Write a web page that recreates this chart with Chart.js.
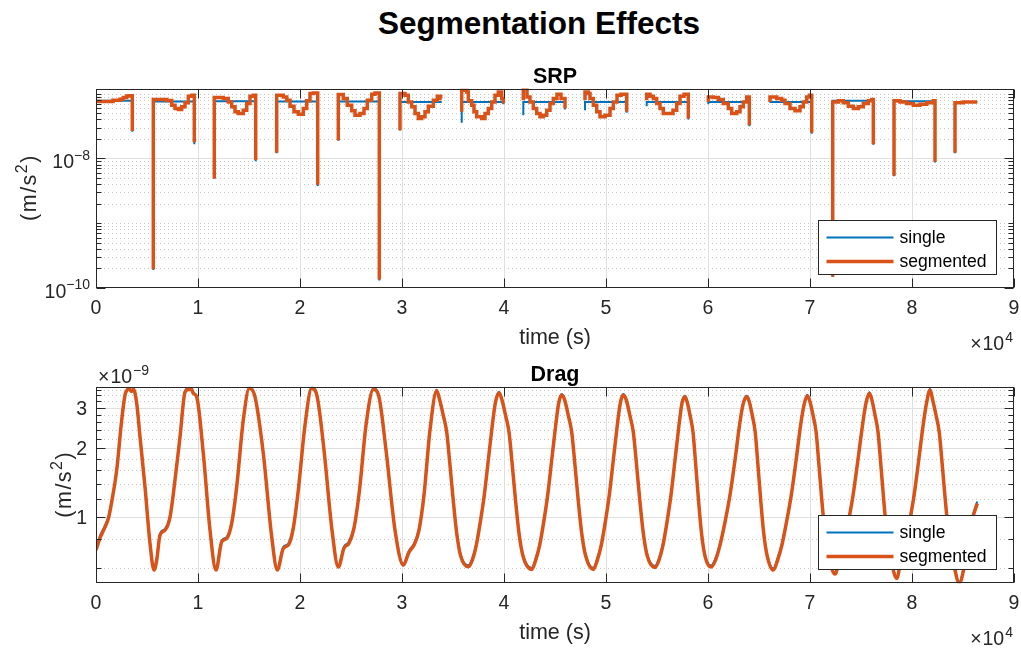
<!DOCTYPE html>
<html>
<head>
<meta charset="utf-8">
<title>Segmentation Effects</title>
<script src="https://cdn.jsdelivr.net/npm/chart.js@4.4.1/dist/chart.umd.min.js"></script>
<style>
  html, body { margin: 0; padding: 0; background: #ffffff; }
  #fig { position: relative; width: 1021px; height: 651px; overflow: hidden; background: #ffffff; }
  #suptitle {
    position: absolute; left: 0; top: 4px; width: 1078px; text-align: center;
    font: bold 31.5px "Liberation Sans", Arial, Helvetica, sans-serif; color: #000000; line-height: 38px;
  }
  canvas { position: absolute; left: 0; }
</style>
</head>
<body>
<div id="fig">
  <div id="suptitle">Segmentation Effects</div>
  <canvas id="srpCanvas" width="1021" height="365" style="top:0px"></canvas>
  <canvas id="dragCanvas" width="1021" height="311" style="top:340px"></canvas>
</div>
<script>
// ---------------- SRP acceleration (m/s^2) per sunlit arc; null = eclipse gap ----------------
const srpTime = [
  0, 1667, 2353, 2677, 3010, 3265, 3559, 3559, 4600,
  5618, 6931, 7422, 7745, 8069, 8402, 8726, 9049, 9382, 9637, 9637, 10600,
  11598, 12481, 12971, 13304, 13628, 13951, 14441, 14775, 15098, 15422, 15657, 15657, 16700,
  17716, 18363, 18696, 19020, 19412, 19834, 20324, 20657, 20981, 21304, 21735, 21735, 22700,
  23755, 24245, 24637, 25069, 25392, 25883, 26275, 26598, 27030, 27353, 27775, 27775, 28800,
  29804, 30294, 30618, 30951, 31275, 31598, 31931, 32255, 32579, 33069, 33461, 33794, 33893, 34900,
  35853, 36343, 36500, 36833, 37059, 37324, 37814, 38138, 38461, 38795, 39118, 39442, 39775, 39932, 39932, 40900,
  41893, 42255, 42549, 42873, 43206, 43530, 43853, 44187, 44510, 44834, 45196, 45589, 45981, 45981, 47000,
  47942, 48265, 48432, 48755, 49089, 49412, 49902, 50393, 50716, 51079, 51471, 52030, 52030, 53000,
  53991, 54314, 54638, 54971, 55295, 55618, 56079, 56569, 56932, 57255, 57648, 58069, 58069, 59000,
  60030, 60520, 61011, 61500, 61991, 62324, 62814, 63138, 63461, 63795, 64050, 64050, 65000,
  66079, 66736, 67226, 67550, 68040, 68530, 69020, 69344, 69677, 69932, 70168, 70168, 71200,
  72227, 72776, 73266, 73756, 74246, 74737, 75227, 75717, 76050, 76207, 76207, 77200,
  78238, 78826, 79483, 80130, 80785, 81442, 82089, 82256, 82256, 83200,
  84216, 85029, 85686, 86400
];
const srpSegmented = [
  7.57e-8, 7.57e-8, 7.93e-8, 8.21e-8, 8.72e-8, 9.23e-8, 9.30e-8, 2.66e-8, null,
  1.94e-10, 8.12e-8, 7.84e-8, 6.64e-8, 5.90e-8, 5.70e-8, 6.25e-8, 7.20e-8, 9.14e-8, 9.46e-8, 1.77e-8, null,
  4.92e-9, 8.72e-8, 8.42e-8, 7.46e-8, 6.25e-8, 5.23e-8, 4.94e-8, 5.56e-8, 7.05e-8, 9.14e-8, 9.46e-8, 9.42e-9, null,
  1.22e-8, 9.46e-8, 8.91e-8, 7.93e-8, 6.40e-8, 5.23e-8, 4.82e-8, 5.90e-8, 7.73e-8, 1.005e-7, 1.027e-7, 3.92e-9, null,
  1.91e-8, 9.70e-8, 8.42e-8, 6.64e-8, 5.42e-8, 4.65e-8, 4.94e-8, 5.90e-8, 7.93e-8, 9.81e-8, 1.027e-7, 1.35e-10, null,
  2.73e-8, 1.005e-7, 9.46e-8, 7.46e-8, 6.25e-8, 4.94e-8, 4.14e-8, 4.38e-8, 5.23e-8, 6.40e-8, 7.93e-8, 9.14e-8, 8.42e-8, null,
  5.23e-8, 1.13e-7, 1.064e-7, 7.73e-8, 6.64e-8, 5.23e-8, 4.38e-8, 4.14e-8, 4.94e-8, 5.90e-8, 7.46e-8, 9.46e-8, 1.064e-7, 8.42e-8, 7.05e-8, null,
  7.93e-8, 1.20e-7, 8.91e-8, 7.46e-8, 5.90e-8, 4.94e-8, 4.38e-8, 4.65e-8, 5.56e-8, 7.05e-8, 8.42e-8, 9.81e-8, 8.42e-8, 5.90e-8, null,
  7.93e-8, 1.064e-7, 1.005e-7, 8.42e-8, 6.64e-8, 5.23e-8, 4.38e-8, 4.65e-8, 5.90e-8, 7.46e-8, 9.46e-8, 9.81e-8, 5.23e-8, null,
  7.93e-8, 9.81e-8, 9.14e-8, 8.42e-8, 7.05e-8, 5.90e-8, 4.94e-8, 4.94e-8, 5.56e-8, 7.05e-8, 9.14e-8, 9.81e-8, 4.14e-8, null,
  7.46e-8, 8.91e-8, 8.72e-8, 8.12e-8, 7.05e-8, 5.90e-8, 4.94e-8, 5.23e-8, 6.25e-8, 7.46e-8, 8.91e-8, 3.26e-8, null,
  7.46e-8, 8.91e-8, 8.42e-8, 7.93e-8, 7.05e-8, 5.90e-8, 5.42e-8, 6.25e-8, 7.46e-8, 8.91e-8, 9.46e-8, 2.48e-8, null,
  1.50e-10, 7.46e-8, 7.73e-8, 7.20e-8, 6.40e-8, 5.90e-8, 6.25e-8, 7.05e-8, 7.73e-8, 8.12e-8, 1.66e-8, null,
  5.39e-9, 7.73e-8, 7.46e-8, 7.05e-8, 6.64e-8, 6.88e-8, 7.20e-8, 7.73e-8, 8.86e-9, null,
  1.22e-8, 7.20e-8, 7.46e-8, 7.46e-8
];
const srpSingle = [
  7.73e-8, 7.73e-8, 7.73e-8, 7.73e-8, 7.73e-8, 7.73e-8, 7.73e-8, 2.59e-8, null,
  1.90e-10, 7.57e-8, 7.57e-8, 7.57e-8, 7.57e-8, 7.57e-8, 7.57e-8, 7.57e-8, 7.57e-8, 7.57e-8, 1.66e-8, null,
  4.85e-9, 7.65e-8, 7.65e-8, 7.65e-8, 7.65e-8, 7.65e-8, 7.65e-8, 7.65e-8, 7.65e-8, 7.65e-8, 7.65e-8, 9.08e-9, null,
  1.20e-8, 7.57e-8, 7.57e-8, 7.57e-8, 7.57e-8, 7.57e-8, 7.57e-8, 7.57e-8, 7.57e-8, 7.57e-8, 7.57e-8, 3.74e-9, null,
  1.88e-8, 7.57e-8, 7.57e-8, 7.57e-8, 7.57e-8, 7.57e-8, 7.57e-8, 7.57e-8, 7.57e-8, 7.57e-8, 7.57e-8, 1.31e-10, null,
  2.70e-8, 7.46e-8, 7.46e-8, 7.46e-8, 7.46e-8, 7.46e-8, 7.46e-8, 7.46e-8, 7.46e-8, 7.46e-8, 7.46e-8, 7.46e-8, 7.46e-8, null,
  3.54e-8, 7.46e-8, 7.46e-8, 7.46e-8, 7.46e-8, 7.46e-8, 7.46e-8, 7.46e-8, 7.46e-8, 7.46e-8, 7.46e-8, 7.46e-8, 7.46e-8, 7.46e-8, 6.88e-8, null,
  4.65e-8, 7.46e-8, 7.46e-8, 7.46e-8, 7.46e-8, 7.46e-8, 7.46e-8, 7.46e-8, 7.46e-8, 7.46e-8, 7.46e-8, 7.46e-8, 7.46e-8, 5.70e-8, null,
  5.56e-8, 7.46e-8, 7.46e-8, 7.46e-8, 7.46e-8, 7.46e-8, 7.46e-8, 7.46e-8, 7.46e-8, 7.46e-8, 7.46e-8, 7.46e-8, 5.05e-8, null,
  6.40e-8, 7.46e-8, 7.46e-8, 7.46e-8, 7.46e-8, 7.46e-8, 7.46e-8, 7.46e-8, 7.46e-8, 7.46e-8, 7.46e-8, 7.46e-8, 4.00e-8, null,
  6.88e-8, 7.46e-8, 7.46e-8, 7.46e-8, 7.46e-8, 7.46e-8, 7.46e-8, 7.46e-8, 7.46e-8, 7.46e-8, 7.46e-8, 3.15e-8, null,
  7.30e-8, 7.46e-8, 7.46e-8, 7.46e-8, 7.46e-8, 7.46e-8, 7.46e-8, 7.46e-8, 7.46e-8, 7.46e-8, 7.46e-8, 2.41e-8, null,
  1.48e-10, 7.73e-8, 7.73e-8, 7.73e-8, 7.73e-8, 7.73e-8, 7.73e-8, 7.73e-8, 7.73e-8, 7.73e-8, 1.63e-8, null,
  5.30e-9, 7.65e-8, 7.65e-8, 7.65e-8, 7.65e-8, 7.65e-8, 7.65e-8, 7.65e-8, 8.62e-9, null,
  1.20e-8, 7.46e-8, 7.46e-8, 7.46e-8
];

// ---------------- Drag acceleration, in units of 1e-9 m/s^2 ----------------
const dragTime = [
  0, 392, 882, 1225, 1569, 2029, 2520, 2892,
  3284, 3480, 3677, 3990, 4314, 4804, 5294, 5686,
  5951, 6275, 6765, 7255, 7745, 8235, 8726,
  9049, 9382, 9539, 9873, 10520, 11177, 11765,
  12324, 12814, 13304, 13794, 14441,
  15030, 15588, 16402, 17225, 17775,
  18363, 18853, 19343, 19834, 20490,
  21147, 21667, 22353, 23137, 23755,
  24314, 24804, 25294, 25833, 26471,
  27187, 27745, 28432, 29314, 30128,
  30687, 31177, 31667, 32157, 32745,
  33402, 33696, 34039, 34383, 34677, 35020, 35363, 35755, 36501,
  36893, 37285, 37677, 38069, 38461, 38854, 39148,
  39510, 39804, 40147, 40490, 40785, 41128, 41471, 41863, 42716,
  43108, 43500, 43892, 44285, 44677, 45069, 45363,
  45657, 45951, 46294, 46637, 46931, 47275, 47618, 48010, 48755,
  49147, 49539, 49931, 50324, 50716, 51108, 51402,
  51696, 51990, 52333, 52676, 52970, 53314, 53657, 54049, 54804,
  55196, 55589, 55981, 56373, 56765, 57157, 57451,
  57746, 57942, 58236, 58530, 58775, 59069, 59363, 59706, 60295,
  60736, 61177, 61667, 62157, 62647, 63089, 63432,
  63795, 64040, 64334, 64628, 64873, 65168, 65462, 65805, 66403,
  66824, 67245, 67696, 68167, 68638, 69079, 69422,
  69737, 69991, 70296, 70599, 70854, 71158, 71462, 71825, 72453,
  72874, 73306, 73756, 74226, 74697, 75148, 75491,
  75816, 76071, 76375, 76669, 76924, 77228, 77532, 77885, 78502,
  78914, 79326, 79757, 80208, 80659, 81091, 81424,
  81765, 82030, 82354, 82667, 82942, 83265, 83589, 83962, 84638,
  85049, 85491, 85883, 86400
];
const dragSegmented = [
  0.718, 0.810, 0.904, 0.990, 1.186, 1.604, 2.652, 3.48,
  3.62, 3.54, 3.61, 3.14, 2.24, 1.356, 0.768, 0.587,
  0.649, 0.834, 0.877, 1.000, 1.451, 2.236, 3.51,
  3.61, 3.61, 3.47, 3.35, 1.897, 0.877, 0.587,
  0.780, 0.807, 0.939, 1.356, 2.652,
  3.65, 3.35, 1.897, 0.820, 0.587,
  0.730, 0.755, 0.895, 1.312, 2.52,
  3.65, 3.38, 1.962, 0.877, 0.605,
  0.732, 0.770, 0.895, 1.312, 2.52,
  3.61, 3.34, 1.962, 0.877, 0.617,
  0.703, 0.755, 0.877, 1.248, 2.399,
  3.56, 3.243, 2.789, 2.351, 1.739, 1.186, 0.851, 0.676, 0.607,
  0.649, 0.755, 0.951, 1.248, 1.773, 2.52, 3.146,
  3.49, 3.243, 2.789, 2.351, 1.739, 1.186, 0.851, 0.676, 0.591,
  0.649, 0.755, 0.951, 1.248, 1.773, 2.52, 3.146,
  3.41, 3.243, 2.789, 2.351, 1.739, 1.186, 0.851, 0.676, 0.591,
  0.649, 0.755, 0.951, 1.248, 1.773, 2.52, 3.146,
  3.41, 3.243, 2.789, 2.351, 1.739, 1.186, 0.851, 0.676, 0.603,
  0.649, 0.755, 0.951, 1.248, 1.773, 2.52, 3.146,
  3.35, 3.20, 2.789, 2.351, 1.739, 1.186, 0.851, 0.676, 0.605,
  0.649, 0.755, 0.951, 1.248, 1.773, 2.52, 3.10,
  3.35, 3.20, 2.789, 2.351, 1.739, 1.186, 0.851, 0.676, 0.587,
  0.649, 0.755, 0.951, 1.248, 1.773, 2.52, 3.10,
  3.38, 3.20, 2.789, 2.351, 1.739, 1.186, 0.851, 0.676, 0.564,
  0.649, 0.755, 0.951, 1.248, 1.773, 2.52, 3.146,
  3.47, 3.243, 2.789, 2.351, 1.739, 1.186, 0.851, 0.676, 0.540,
  0.649, 0.755, 0.951, 1.248, 1.773, 2.52, 3.146,
  3.59, 3.243, 2.789, 2.351, 1.739, 1.186, 0.851, 0.676, 0.514,
  0.587, 0.794, 0.970, 1.148
];
const dragSingle = [
  0.735, 0.828, 0.920, 1.005, 1.195, 1.610, 2.66, 3.50,
  3.66, 3.58, 3.65, 3.16, 2.25, 1.36, 0.772, 0.592,
  0.660, 0.846, 0.889, 1.012, 1.460, 2.246, 3.54,
  3.66, 3.65, 3.50, 3.37, 1.905, 0.882, 0.592,
  0.790, 0.818, 0.950, 1.365, 2.66,
  3.69, 3.38, 1.905, 0.825, 0.592,
  0.742, 0.766, 0.905, 1.320, 2.53,
  3.69, 3.41, 1.970, 0.882, 0.611,
  0.744, 0.781, 0.905, 1.320, 2.53,
  3.65, 3.37, 1.970, 0.882, 0.624,
  0.714, 0.766, 0.888, 1.256, 2.41,
  3.60, 3.27, 2.80, 2.36, 1.745, 1.192, 0.858, 0.685, 0.616,
  0.660, 0.766, 0.960, 1.256, 1.781, 2.53, 3.17,
  3.53, 3.27, 2.80, 2.36, 1.745, 1.192, 0.858, 0.685, 0.600,
  0.660, 0.766, 0.960, 1.256, 1.781, 2.53, 3.17,
  3.45, 3.27, 2.80, 2.36, 1.745, 1.192, 0.858, 0.685, 0.600,
  0.660, 0.766, 0.960, 1.256, 1.781, 2.53, 3.17,
  3.45, 3.27, 2.80, 2.36, 1.745, 1.192, 0.858, 0.685, 0.612,
  0.660, 0.766, 0.960, 1.256, 1.781, 2.53, 3.17,
  3.39, 3.23, 2.80, 2.36, 1.745, 1.192, 0.858, 0.685, 0.614,
  0.660, 0.766, 0.960, 1.256, 1.781, 2.53, 3.13,
  3.39, 3.23, 2.80, 2.36, 1.745, 1.192, 0.858, 0.685, 0.596,
  0.660, 0.766, 0.960, 1.256, 1.781, 2.53, 3.13,
  3.42, 3.23, 2.80, 2.36, 1.745, 1.192, 0.858, 0.685, 0.573,
  0.660, 0.766, 0.960, 1.256, 1.781, 2.53, 3.17,
  3.51, 3.27, 2.80, 2.36, 1.745, 1.192, 0.858, 0.685, 0.548,
  0.660, 0.766, 0.960, 1.256, 1.781, 2.53, 3.17,
  3.63, 3.27, 2.80, 2.36, 1.745, 1.192, 0.858, 0.685, 0.522,
  0.596, 0.803, 0.985, 1.17
];

// ---------------- axis ticks ----------------
const timeTicks = [0, 10000, 20000, 30000, 40000, 50000, 60000, 70000, 80000, 90000];
const srpMajorTicks = [1e-10, 1e-8];
const srpMinorTicks = [2e-10, 3e-10, 4e-10, 5e-10, 6e-10, 7e-10, 8e-10, 9e-10,
  1e-9, 2e-9, 3e-9, 4e-9, 5e-9, 6e-9, 7e-9, 8e-9, 9e-9,
  2e-8, 3e-8, 4e-8, 5e-8, 6e-8, 7e-8, 8e-8, 9e-8, 1e-7];
const dragMajorTicks = [1, 2, 3];
const dragMinorTicks = [0.6, 0.8, 1.2, 1.4, 1.6, 1.8, 2.2, 2.4, 2.6, 2.8, 3.2, 3.4, 3.6];

const FONT = '"Liberation Sans", Arial, Helvetica, sans-serif';
const INK = '#262626';
const BLUE = '#0072BD';
const ORANGE = '#D95319';
const MINUS = '\u2212';

function fontStr(size, bold) { return (bold ? 'bold ' : '') + size + 'px ' + FONT; }

// text run where some pieces are raised as superscripts; gap adds spacing after each piece
function drawRich(ctx, pieces, x, y, size, align, gap) {
  const g = gap || 0;
  const supSize = Math.round(size * 0.74);
  const widths = pieces.map(p => { ctx.font = fontStr(p.sup ? supSize : size); return ctx.measureText(p.t).width; });
  const total = widths.reduce((s, w) => s + w, 0) + g * (pieces.length - 1);
  let cx = align === 'right' ? x - total : (align === 'center' ? x - total / 2 : x);
  ctx.textAlign = 'left';
  ctx.textBaseline = 'alphabetic';
  pieces.forEach((p, i) => {
    ctx.font = fontStr(p.sup ? supSize : size);
    ctx.fillText(p.t, cx, p.sup ? y - size * 0.42 : y);
    cx += widths[i] + g;
  });
}

function hLine(ctx, x0, x1, y) { ctx.beginPath(); ctx.moveTo(x0, y); ctx.lineTo(x1, y); ctx.stroke(); }
function vLine(ctx, x, y0, y1) { ctx.beginPath(); ctx.moveTo(x, y0); ctx.lineTo(x, y1); ctx.stroke(); }

// MATLAB-style boxed axes: grid, inward ticks, labels, title and legend
const boxedAxes = {
  id: 'boxedAxes',
  beforeDatasetsDraw(chart, args, o) {
    const { ctx, chartArea: a, scales: { x, y } } = chart;
    ctx.save();
    ctx.lineWidth = 1;
    ctx.strokeStyle = '#c8c8c8';
    ctx.setLineDash([1, 3]);
    o.yMinor.forEach(v => {
      const py = Math.round(y.getPixelForValue(v)) + 0.5;
      if (py > a.top + 1 && py < a.bottom - 1) hLine(ctx, a.left, a.right, py);
    });
    ctx.setLineDash([]);
    ctx.strokeStyle = '#dfdfdf';
    o.yMajor.forEach(v => {
      const py = Math.round(y.getPixelForValue(v)) + 0.5;
      if (py > a.top + 1 && py < a.bottom - 1) hLine(ctx, a.left, a.right, py);
    });
    o.xTicks.forEach(v => {
      const px = Math.round(x.getPixelForValue(v)) + 0.5;
      if (px > a.left + 1 && px < a.right - 1) vLine(ctx, px, a.top, a.bottom);
    });
    ctx.restore();
  },
  afterDatasetsDraw(chart, args, o) {
    const { ctx, chartArea: a, scales: { x, y } } = chart;
    ctx.save();
    ctx.strokeStyle = INK;
    ctx.fillStyle = INK;
    ctx.lineWidth = 1;
    const L = Math.round(a.left) + 0.5, R = Math.round(a.right) - 0.5;
    const T = Math.round(a.top) + 0.5, B = Math.round(a.bottom) - 0.5;
    // ticks
    o.xTicks.forEach(v => {
      const px = Math.round(x.getPixelForValue(v)) + 0.5;
      vLine(ctx, px, B, B - 9);
      vLine(ctx, px, T, T + 9);
    });
    o.yMajor.forEach(v => {
      const py = Math.round(y.getPixelForValue(v)) + 0.5;
      hLine(ctx, L, L + 9, py);
      hLine(ctx, R, R - 9, py);
    });
    o.yMinor.forEach(v => {
      const py = Math.round(y.getPixelForValue(v)) + 0.5;
      hLine(ctx, L, L + 5, py);
      hLine(ctx, R, R - 5, py);
    });
    // box
    ctx.strokeRect(L, T, R - L, B - T);

    // x tick labels
    ctx.font = fontStr(o.tickSize);
    ctx.textAlign = 'center';
    ctx.textBaseline = 'alphabetic';
    o.xTicks.forEach(v => ctx.fillText(String(v / 1e4), x.getPixelForValue(v), a.bottom + 26));
    drawRich(ctx, [{ t: '\u00d7' }, { t: '10' }, { t: '4', sup: true }], a.right - 1, a.bottom + 62, o.tickSize, 'right', 1);
    // x label
    ctx.font = fontStr(o.labelSize);
    ctx.textAlign = 'center';
    ctx.fillText('time (s)', (a.left + a.right) / 2, a.bottom + 55.5);

    // y tick labels
    o.yMajor.forEach(v => {
      const py = y.getPixelForValue(v);
      if (o.logLabels) {
        const e = Math.round(Math.log10(v));
        const expText = (e < 0 ? MINUS : '') + String(Math.abs(e));
        drawRich(ctx, [{ t: '10' }, { t: expText, sup: true }], a.left - 6, py + 9.5, o.tickSize, 'right');
      } else {
        ctx.font = fontStr(o.tickSize);
        ctx.textAlign = 'right';
        ctx.fillText(String(v), a.left - 9, py + 7);
      }
    });
    if (o.yExponent) {
      drawRich(ctx, [{ t: '\u00d7' }, { t: '10' }, { t: o.yExponent, sup: true }], a.left + 2, a.top - 4, o.tickSize, 'left', 1);
    }
    // y label, rotated
    ctx.save();
    ctx.translate(o.yLabelX, (a.top + a.bottom) / 2);
    ctx.rotate(-Math.PI / 2);
    drawRich(ctx, [{ t: '(' }, { t: 'm' }, { t: '/' }, { t: 's' }, { t: '2', sup: true }, { t: ')' }], 0, 0, o.labelSize, 'center', 1.5);
    ctx.restore();

    // axes title
    ctx.fillStyle = '#000000';
    ctx.font = fontStr(o.titleSize, true);
    ctx.textAlign = 'center';
    ctx.textBaseline = 'alphabetic';
    ctx.fillText(o.title, (a.left + a.right) / 2, a.top - 6);

    // legend
    const lw = 178, lh = 54;
    const lx = Math.round(a.right - 18 - lw) + 0.5, ly = Math.round(a.bottom - 14 - lh) + 0.5;
    ctx.fillStyle = '#ffffff';
    ctx.fillRect(lx, ly, lw, lh);
    ctx.strokeStyle = INK;
    ctx.lineWidth = 1;
    ctx.strokeRect(lx, ly, lw, lh);
    chart.data.datasets.forEach((ds, i) => {
      const cy = ly + 17 + i * 24;
      ctx.strokeStyle = ds.borderColor;
      ctx.lineWidth = ds.borderWidth;
      hLine(ctx, lx + 8, lx + 75, cy);
      ctx.fillStyle = '#000000';
      ctx.font = fontStr(o.legendSize);
      ctx.textAlign = 'left';
      ctx.textBaseline = 'middle';
      ctx.fillText(ds.label, lx + 81, cy + 1);
    });
    ctx.restore();
  }
};

const toPoints = (ts, vs) => ts.map((t, i) => ({ x: t, y: vs[i] }));

function makePanel(canvasId, cfg) {
  return new Chart(document.getElementById(canvasId), {
    type: 'line',
    data: {
      datasets: [
        { label: 'single', data: toPoints(cfg.time, cfg.single), borderColor: BLUE, borderWidth: 2,
          order: 2, pointRadius: 0, stepped: cfg.stepped, cubicInterpolationMode: cfg.smooth ? 'monotone' : 'default',
          borderCapStyle: 'butt', borderJoinStyle: 'miter', spanGaps: false },
        { label: 'segmented', data: toPoints(cfg.time, cfg.segmented), borderColor: ORANGE, borderWidth: 3.5,
          order: 1, pointRadius: 0, stepped: cfg.stepped, cubicInterpolationMode: cfg.smooth ? 'monotone' : 'default',
          borderCapStyle: 'butt', borderJoinStyle: 'miter', spanGaps: false }
      ]
    },
    options: {
      responsive: false,
      animation: false,
      events: [],
      layout: { padding: cfg.padding },
      scales: {
        x: { type: 'linear', display: false, min: 0, max: 90000 },
        y: { type: 'logarithmic', display: false, min: cfg.ymin, max: cfg.ymax }
      },
      plugins: {
        legend: { display: false },
        tooltip: { enabled: false },
        boxedAxes: cfg.axes
      }
    },
    plugins: [boxedAxes]
  });
}

makePanel('srpCanvas', {
  time: srpTime, single: srpSingle, segmented: srpSegmented,
  stepped: 'after', smooth: false,
  ymin: 1e-10, ymax: 1.2e-7,
  padding: { left: 96, right: 7, top: 88.5, bottom: 77 },
  axes: {
    title: 'SRP', xTicks: timeTicks, yMajor: srpMajorTicks, yMinor: srpMinorTicks,
    logLabels: true, yExponent: null, yLabelX: 36,
    tickSize: 19.5, labelSize: 21.5, titleSize: 21.5, legendSize: 17.6
  }
});

makePanel('dragCanvas', {
  time: dragTime, single: dragSingle, segmented: dragSegmented,
  stepped: false, smooth: true,
  ymin: 0.514, ymax: 3.71,
  padding: { left: 96, right: 7, top: 46.7, bottom: 67.7 },
  axes: {
    title: 'Drag', xTicks: timeTicks, yMajor: dragMajorTicks, yMinor: dragMinorTicks,
    logLabels: false, yExponent: MINUS + '9', yLabelX: 71,
    tickSize: 19.5, labelSize: 21.5, titleSize: 21.5, legendSize: 17.6
  }
});
</script>
</body>
</html>
